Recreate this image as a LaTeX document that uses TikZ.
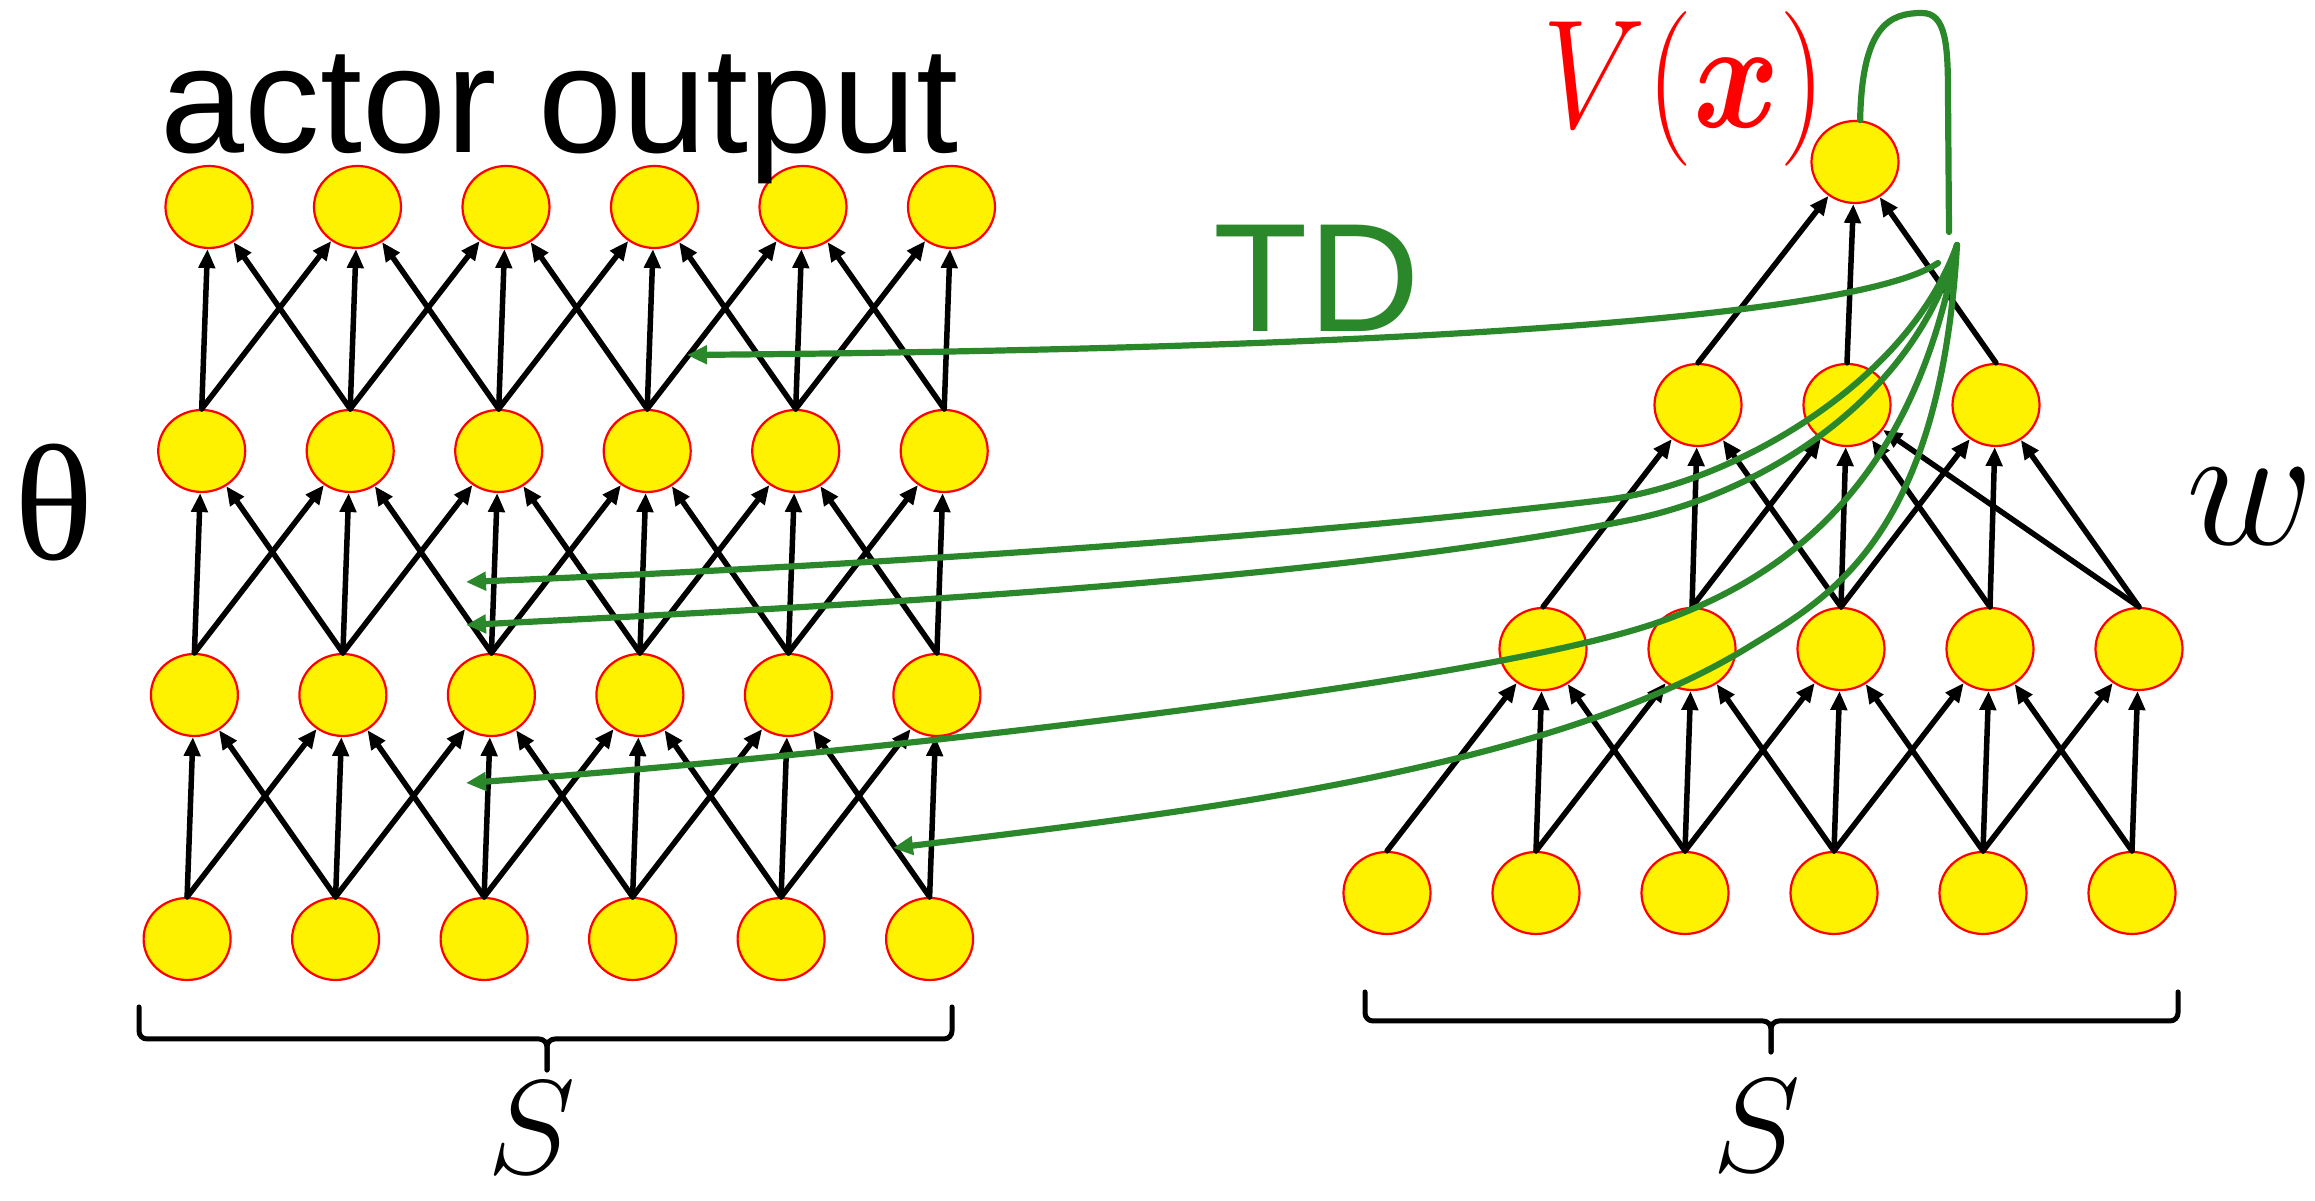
\RequirePackage{fix-cm}
\documentclass[tikz,border=0pt]{standalone}
\usepackage{amsmath}
\usepackage{graphicx}
\usepackage[no-math]{fontspec}
\setmainfont{Liberation Sans}
\newfontfamily\thetafont{Liberation Serif}
\usetikzlibrary{arrows.meta,shapes.geometric}
\definecolor{tdgreen}{RGB}{42,136,42}

\begin{document}
\begin{tikzpicture}[x=0.1mm, y=-0.1mm, line cap=round, line join=round,
    unit/.style={ellipse, draw=red, line width=0.22mm, fill=yellow, minimum width=8.7mm, minimum height=8.2mm, inner sep=0pt},
    link/.style={line width=0.55mm, -{Triangle[length=1.9mm, width=1.6mm]}},
    td/.style={draw=tdgreen, line width=0.62mm},
    tdarrow/.style={td, -{Triangle[length=2mm, width=1.8mm]}},
    bracket/.style={line width=0.5mm, rounded corners=0.8mm}]
  \useasboundingbox (0,0) rectangle (2315,1201);

  \foreach \r in {1,...,4}
    \foreach \c in {1,...,6}
      \node[unit] (a\r\c) at ({209-7.3*(\r-1)+148.5*(\c-1)}, {207+244*(\r-1)}) {};

  \node[unit] (c11) at (1855,162) {};
  \foreach \c in {1,2,3} \node[unit] (c2\c) at ({1698+149*(\c-1)},405) {};
  \foreach \c in {1,...,5} \node[unit] (c3\c) at ({1543+149*(\c-1)},649) {};
  \foreach \c in {1,...,6} \node[unit] (c4\c) at ({1387+149*(\c-1)},893) {};

  \foreach \r in {2,3,4}
    \foreach \c in {1,...,6} {
      \pgfmathtruncatemacro\up{\r-1}
      \pgfmathtruncatemacro\lft{\c-1}
      \pgfmathtruncatemacro\rgt{\c+1}
      \draw[link] (a\r\c.north) -- (a\up\c);
      \ifnum\c>1 \draw[link] (a\r\c.north) -- (a\up\lft); \fi
      \ifnum\c<6 \draw[link] (a\r\c.north) -- (a\up\rgt); \fi
    }

  \foreach \c in {1,...,6}
    \foreach \k in {-2,-1,0} {
      \pgfmathtruncatemacro\tgt{\c+\k}
      \ifnum\tgt>0 \ifnum\tgt<6 \draw[link] (c4\c.north) -- (c3\tgt); \fi\fi
    }
  \foreach \c in {1,...,5}
    \foreach \k in {-2,-1,0} {
      \pgfmathtruncatemacro\tgt{\c+\k}
      \ifnum\tgt>0 \ifnum\tgt<4 \draw[link] (c3\c.north) -- (c2\tgt); \fi\fi
    }
  \draw[link] (c35.north) -- (c22);
  \foreach \c in {1,2,3} \draw[link] (c2\c.north) -- (c11);

  \draw[bracket] (139,1007) -- (139,1039) -- (547,1039) -- (547,1070);
  \draw[bracket] (952,1007) -- (952,1039) -- (547,1039) -- (547,1070);
  \draw[bracket] (1365,992) -- (1365,1021) -- (1771,1021) -- (1771,1052);
  \draw[bracket] (2178,992) -- (2178,1021) -- (1771,1021) -- (1771,1052);

  \node[anchor=base, font=\fontsize{43pt}{50pt}\selectfont] (title) at (560,153) {actor output};
  \node[anchor=base, text=tdgreen, font=\fontsize{44pt}{50pt}\selectfont] (tdlabel) at (1317,332) {TD};
  \node[anchor=base, inner sep=0pt, font=\thetafont\fontsize{47pt}{52pt}\selectfont] (theta) at (54,560) {θ};
  \node[anchor=base west, inner sep=0pt, font=\fontsize{50pt}{56pt}\selectfont] (wlabel) at (2186,545) {$w$};
  \node[anchor=base, inner sep=0pt, font=\fontsize{38pt}{44pt}\selectfont] (sleft) at (532,1174) {$S$};
  \node[anchor=base, inner sep=0pt, font=\fontsize{38pt}{44pt}\selectfont] (sright) at (1757,1172) {$S$};
  \node[anchor=base east, inner sep=0pt, text=red, font=\fontsize{44pt}{50pt}\selectfont] (vlabel) at (1827,128) {\scalebox{0.85}[1]{$V(\boldsymbol{x})$}};

  \coordinate (loopend) at (1949,232);
  \coordinate (fan) at (1957,245);
  \coordinate (tdstart) at (1938,263);
  \coordinate (h1) at (687,355);
  \coordinate (h2) at (466,582);
  \coordinate (h3) at (466,625);
  \coordinate (h4) at (466,783);
  \coordinate (h5) at (893,848);

  \draw[td] (c11.83) .. controls (1862,25) and (1890,13) .. (1922,13) .. controls (1946,13) and (1948,45) .. (1948,95) -- (loopend);
  \draw[tdarrow] (tdstart) .. controls (1870,310) and (1500,348) .. (h1);
  \draw[tdarrow] (fan) .. controls (1905,390) and (1720,487) .. (1604,500) .. controls (1304,536) and (866,566) .. (h2);
  \draw[tdarrow] (fan) .. controls (1915,400) and (1760,494) .. (1630,520) .. controls (1330,580) and (866,605) .. (h3);
  \draw[tdarrow] (fan) .. controls (1915,480) and (1790,575) .. (1662,621) .. controls (1482,686) and (816,758) .. (h4);
  \draw[tdarrow] (fan) .. controls (1940,540) and (1827,599) .. (1747,648) .. controls (1547,770) and (1193,812) .. (h5);
\end{tikzpicture}
\end{document}
